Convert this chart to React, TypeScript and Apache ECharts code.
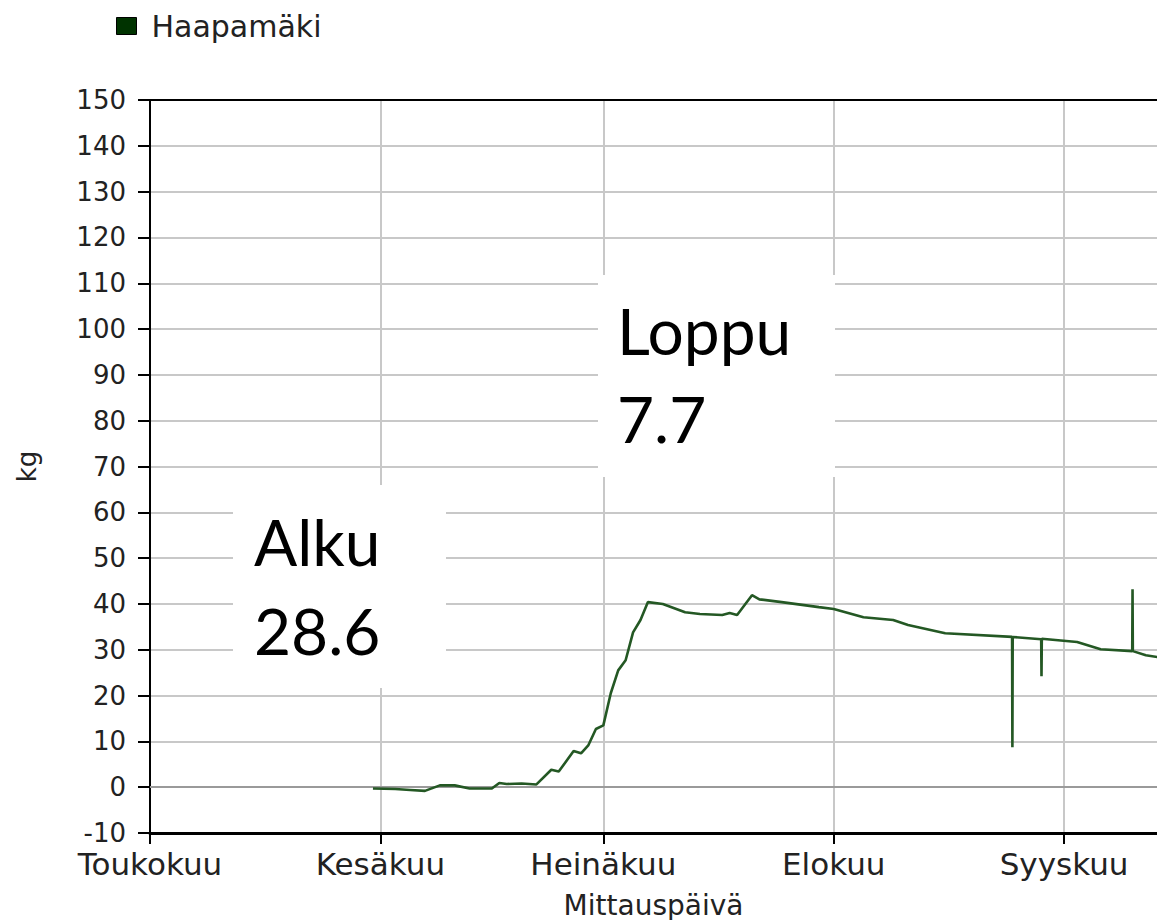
import React, { useEffect, useRef } from "react";
import * as echarts from "echarts";

const seriesName = "Haapamäki";
const monthLabels = ["Toukokuu", "Kesäkuu", "Heinäkuu", "Elokuu", "Syyskuu"];
const monthTicks = ["2013-05-01", "2013-06-01", "2013-07-01", "2013-08-01", "2013-09-01"];
const xMin = "2013-05-01";
const xMax = "2013-09-13 12:00";

const dates = [
  "2013-05-31", "2013-06-03", "2013-06-05", "2013-06-07", "2013-06-09", "2013-06-11",
  "2013-06-13", "2013-06-16", "2013-06-17", "2013-06-18", "2013-06-20", "2013-06-22",
  "2013-06-24", "2013-06-25", "2013-06-27", "2013-06-28", "2013-06-29", "2013-06-30",
  "2013-07-01", "2013-07-02", "2013-07-03", "2013-07-04", "2013-07-05", "2013-07-06",
  "2013-07-07", "2013-07-09", "2013-07-12", "2013-07-14", "2013-07-17", "2013-07-18",
  "2013-07-19", "2013-07-21", "2013-07-22", "2013-07-25", "2013-07-30", "2013-08-01",
  "2013-08-05", "2013-08-09", "2013-08-11", "2013-08-16", "2013-08-25 00:00", "2013-08-25 01:00",
  "2013-08-25 02:00", "2013-08-28 22:00", "2013-08-28 23:00", "2013-08-29 00:00", "2013-09-02 18:00", "2013-09-05 22:00",
  "2013-09-10 04:00", "2013-09-10 05:00", "2013-09-10 06:00", "2013-09-12", "2013-09-14",
];
const weights = [
  -0.3, -0.4, -0.6, -0.8, 0.4, 0.4,
  -0.3, -0.3, 0.9, 0.7, 0.8, 0.6,
  3.8, 3.4, 7.9, 7.4, 9.2, 12.7,
  13.5, 20.5, 25.5, 27.7, 33.8, 36.5,
  40.4, 40.0, 38.2, 37.8, 37.6, 38.0,
  37.6, 41.9, 41.0, 40.4, 39.3, 38.9,
  37.1, 36.5, 35.4, 33.6, 32.8, 8.7,
  32.8, 32.3, 24.2, 32.4, 31.7, 30.1,
  29.7, 43.2, 29.7, 28.8, 28.3,
];
const yTicks = { min: -10, max: 150, interval: 10 };
const startLabel = ["Alku", "28.6"];
const endLabel = ["Loppu", "7.7"];

const axisFont = "DejaVu Sans";

function parseUTC(s: string): number {
  const [d, tm] = s.split(" ");
  const [y, m, dd] = d.split("-").map(Number);
  const [h, mi] = tm ? tm.split(":").map(Number) : [0, 0];
  return Date.UTC(y, m - 1, dd, h, mi);
}
const DAY = 86400000;
const dayOf = (s: string) => (parseUTC(s) - parseUTC(xMin)) / DAY;

export default function App() {
  const ref = useRef<HTMLDivElement>(null);
  useEffect(() => {
    if (!ref.current) return;
    const chart = echarts.init(ref.current, null, { renderer: "svg" });
    const tickVals = monthTicks.map(dayOf);
    const data = dates.map((d, i) => [dayOf(d), weights[i]]);
    const annFont = "64px Lato";
    chart.setOption({
      animation: false,
      backgroundColor: "#ffffff",
      legend: {
        left: 111,
        top: 6,
        icon: "rect",
        itemWidth: 20,
        itemHeight: 17,
        data: [{ name: seriesName, itemStyle: { color: "#003300", borderColor: "#000", borderWidth: 1 } }],
        textStyle: { fontFamily: axisFont, fontSize: 30, color: "#222", padding: [0, 0, 0, 10] },
      },
      grid: { left: 150, top: 100, right: 0, bottom: 87, containLabel: false, outerBoundsMode: "none" },
      xAxis: [
        {
          type: "value",
          min: dayOf(xMin),
          max: dayOf(xMax),
          name: "Mittauspäivä",
          nameLocation: "middle",
          nameGap: 58,
          nameTextStyle: { fontFamily: axisFont, fontSize: 28, color: "#222" },
          axisLine: { show: true, onZero: false, lineStyle: { color: "#000", width: 3 } },
          axisTick: { show: true, length: 11, customValues: tickVals, lineStyle: { color: "#000", width: 2 } },
          axisLabel: {
            customValues: tickVals,
            margin: 15,
            fontFamily: axisFont,
            fontSize: 31,
            color: "#222",
            showMinLabel: true,
            showMaxLabel: true,
            formatter: (v: number) => {
              const i = tickVals.findIndex((tv) => Math.abs(tv - v) < 0.01);
              return i >= 0 ? monthLabels[i] : "";
            },
          },
          splitLine: { show: true, lineStyle: { color: "#c8c8c8", width: 2 } },
        },
        {
          type: "value",
          position: "top",
          min: dayOf(xMin),
          max: dayOf(xMax),
          axisLine: { show: true, onZero: false, lineStyle: { color: "#000", width: 2 } },
          axisTick: { show: false },
          axisLabel: { show: false },
          splitLine: { show: false },
        },
      ],
      yAxis: {
        type: "value",
        min: yTicks.min,
        max: yTicks.max,
        interval: yTicks.interval,
        name: "kg",
        nameLocation: "middle",
        nameGap: 110,
        nameTextStyle: { fontFamily: axisFont, fontSize: 26, color: "#222" },
        axisLine: { show: true, onZero: false, lineStyle: { color: "#000", width: 2 } },
        axisTick: { show: true, length: 12, lineStyle: { color: "#000", width: 2 } },
        axisLabel: { margin: 24, fontFamily: axisFont, fontSize: 26, color: "#222" },
        splitLine: { show: true, lineStyle: { color: "#c8c8c8", width: 2 } },
      },
      series: [
        {
          name: seriesName,
          type: "line",
          data,
          symbol: "none",
          itemStyle: { color: "#003300" },
          lineStyle: { color: "#245824", width: 2.6 },
          markLine: {
            silent: true,
            symbol: "none",
            label: { show: false },
            lineStyle: { color: "#9a9a9a", width: 2, type: "solid" },
            data: [{ yAxis: 0 }],
            z: 1,
          },
          z: 5,
        },
      ],
      graphic: [
        { type: "rect", shape: { x: 233, y: 485, width: 213, height: 203 }, style: { fill: "#fff" }, z: 3 },
        { type: "text", x: 254, y: 541, style: { text: startLabel[0], font: annFont, fill: "#000", verticalAlign: "middle" }, z: 4 },
        { type: "text", x: 254, y: 630, style: { text: startLabel[1], font: annFont, fill: "#000", verticalAlign: "middle" }, z: 4 },
        { type: "rect", shape: { x: 598, y: 275, width: 237, height: 202 }, style: { fill: "#fff" }, z: 3 },
        { type: "text", x: 617, y: 330, style: { text: endLabel[0], font: annFont, fill: "#000", verticalAlign: "middle" }, z: 4 },
        { type: "text", x: 617, y: 418, style: { text: endLabel[1], font: annFont, fill: "#000", verticalAlign: "middle" }, z: 4 },
      ],
    });
    return () => chart.dispose();
  }, []);
  return (
    <div
      ref={ref}
      style={{ position: "fixed", left: 0, top: 0, width: 1157, height: 920, background: "#fff" }}
    />
  );
}
